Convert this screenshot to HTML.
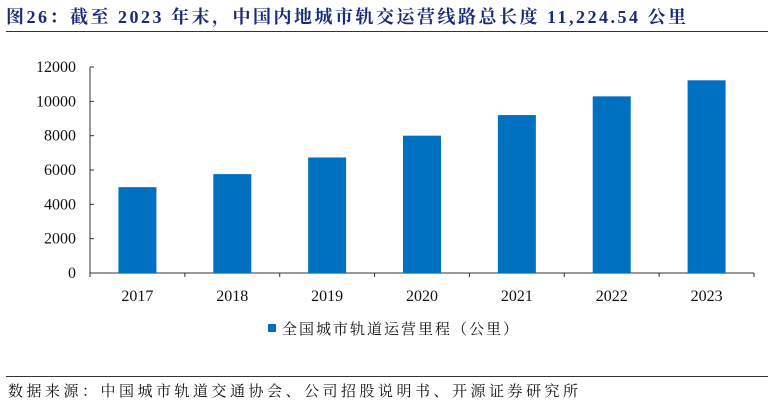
<!DOCTYPE html>
<html><head><meta charset="utf-8">
<style>
body{margin:0;background:#fff;width:774px;height:405px;overflow:hidden;position:relative;font-family:"Liberation Serif","Noto Serif CJK SC","Noto Sans CJK SC",serif;}
#title{position:absolute;left:6px;top:3px;font-size:18px;font-weight:bold;color:#1a2a7a;white-space:nowrap;letter-spacing:2.5px}
#rule1{position:absolute;left:6px;top:31px;width:762px;height:1px;background:#333}
#rule2{position:absolute;left:6px;top:376px;width:762px;height:1px;background:#333}
#src{position:absolute;left:8px;top:380px;font-size:15px;color:#111;white-space:nowrap;letter-spacing:3.5px;font-family:"Liberation Serif","Noto Serif CJK SC",serif}
svg{position:absolute;left:0;top:0}
</style></head><body>
<div id="title">图26：截至 2023 年末，中国内地城市轨交运营线路总长度 11,224.54 公里</div>
<div id="rule1"></div>
<svg id="chart" width="774" height="405"></svg>
<div id="rule2"></div>
<div id="src">数据来源：中国城市轨道交通协会、公司招股说明书、开源证券研究所</div>
<script>
const categories=["2017","2018","2019","2020","2021","2022","2023"];
const values=[5000,5760,6730,8000,9200,10290,11224.54];
const yTicks=[0,2000,4000,6000,8000,10000,12000];
const seriesName="全国城市轨道运营里程（公里）";
const NS="http://www.w3.org/2000/svg";
const svg=document.getElementById('chart');
const x0=90,x1=754,yBase=273,yTop=67,yMax=12000;
const y=v=>yBase-(yBase-yTop)*v/yMax;
const band=(x1-x0)/categories.length;
const xc=i=>x0+band*(i+0.5);
function mk(t,a){const e=document.createElementNS(NS,t);for(const k in a)e.setAttribute(k,a[k]);svg.appendChild(e);return e;}
let ax=mk('line',{x1:x0,y1:yTop,x2:x0,y2:yBase,stroke:'#333'});


let bx=mk('line',{x1:x0,y1:yBase,x2:x1,y2:yBase,stroke:'#333'});


yTicks.forEach(v=>{
  mk('line',{x1:x0,y1:y(v),x2:x0+4,y2:y(v),stroke:'#333'});
  const t=mk('text',{x:x0-14,y:y(v)+5,'text-anchor':'end','font-size':16,fill:'#111','font-family':'Liberation Serif,serif'});
  t.textContent=v;
  
  
});
categories.forEach((c,i)=>{
  const bw=38;
  const r=mk('rect',{x:xc(i)-bw/2,y:y(values[i]),width:bw,height:yBase-y(values[i]),fill:'#0070c0'});
  
  
  const t=mk('text',{x:xc(i),y:yBase+28,'text-anchor':'middle','font-size':16,fill:'#111','font-family':'Liberation Serif,serif'});
  t.textContent=c;
  
  
  mk('line',{x1:x0+band*i,y1:yBase,x2:x0+band*i,y2:yBase+4,stroke:'#333'});
});
mk('line',{x1:x1,y1:yBase,x2:x1,y2:yBase+4,stroke:'#333'});
const lg=mk('rect',{x:268,y:324,width:8,height:8,fill:'#0070c0'});


const lt=mk('text',{x:282,y:334,'font-size':15,fill:'#111','letter-spacing':2,'font-family':'Liberation Serif,Noto Serif CJK SC,serif'});
lt.textContent=seriesName;


</script>
</body></html>
